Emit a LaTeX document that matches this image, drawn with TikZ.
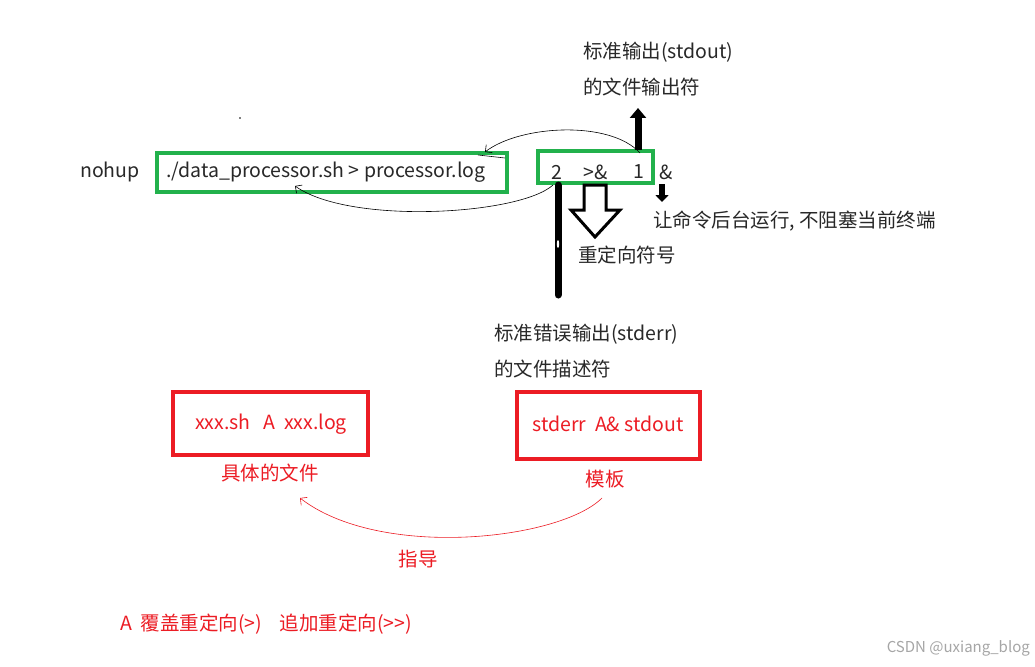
\documentclass[tikz,border=0pt]{standalone}
\usepackage{fontspec}
\setmainfont{Noto Sans CJK SC}
\usetikzlibrary{arrows.meta}
\definecolor{gr}{RGB}{34,177,76}
\definecolor{rd}{RGB}{236,28,36}
\definecolor{tx}{RGB}{40,40,40}
\tikzset{
 t/.style={font=\fontsize{19.5}{22}\selectfont, text=tx, inner sep=0pt, anchor=west},
 rt/.style={t, text=rd},
 gbox/.style={draw=gr, line width=4pt},
 rbox/.style={draw=rd, line width=3.5pt},
 thin/.style={line width=0.6pt, -{Straight Barb[length=5pt]}},
}
\begin{document}
\begin{tikzpicture}[x=1pt,y=-1pt]
\useasboundingbox (0,0) rectangle (1035,666);
\fill[white] (0,0) rectangle (1035,666);
\node[t] (nohup) at (80,172) {nohup};
\draw[gbox] (157,153) rectangle (507,192);
\node[t] (cmd) at (166,172) {./data\_processor.sh\ {>}\ processor.log};
\draw[gbox] (538,151) rectangle (653,183);
\node[t] (two) at (551,172) {2};
\node[t] (redir) at (583,172) {>\&};
\node[t] (one) at (633,172) {1};
\node[t] (amp) at (659,172) {\&};
\node[t] (so1) at (583,52) {标准输出(stdout)};
\node[t] (so2) at (583,87) {的文件输出符};
\coordinate (ua) at (638,150); \coordinate (ub) at (638,108);
\draw[line width=7pt, -{Triangle[length=10pt,width=16pt]}] (ua) -- (ub);
\coordinate (da) at (662,184); \coordinate (db) at (662,202);
\draw[line width=6pt, -{Triangle[length=7pt,width=13pt]}] (da) -- (db);
\node[t] (bg) at (653,221) {让命令后台运行, 不阻塞当前终端};
\draw[line width=3pt, fill=white, line join=miter] (584,185) -- (606,185) -- (606,210) -- (620,210) -- (595,237) -- (571,210) -- (584,210) -- cycle;
\node[t] (rs) at (578,255) {重定向符号};
\coordinate (la) at (558,185); \coordinate (lb) at (558,295);
\draw[line width=7pt, line cap=round] (la) -- (lb);
\fill[white] (558,244) ellipse (1.2 and 4);
\node[t] (se1) at (494,334) {标准错误输出(stderr)};
\node[t] (se2) at (494,369) {的文件描述符};
\fill (240,118) circle (0.8);
\draw[thin] (640,153) .. controls (610,120) and (520,125) .. (485,152);
\draw[line width=0.6pt] (478,155) -- (505,158);
\draw[thin] (553,185) .. controls (520,215) and (350,225) .. (295,186);
\draw[rbox] (173,392) rectangle (368,455);
\node[rt, anchor=center] (f1) at (271,424) {xxx.sh\ \ \ A\ \ xxx.log};
\node[rt, anchor=center] (f1l) at (270,473) {具体的文件};
\draw[rbox] (517,392) rectangle (700,459);
\node[rt, anchor=center] (f2) at (608,424) {stderr\ \ A\& stdout};
\node[rt, anchor=center] (f2l) at (605,479) {模板};
\draw[thin, draw=rd] (602,498) .. controls (560,540) and (380,560) .. (300,498);
\node[rt, anchor=center] (gd) at (418,559) {指导};
\node[rt] (note) at (120,624) {A\ \ 覆盖重定向(>)\ \ \ \ 追加重定向({>}{>})};
\node[t, anchor=east, text=gray!70, font=\fontsize{15}{17}\selectfont] (wm) at (1030,648) {CSDN @uxiang\_blog};
\end{tikzpicture}
\end{document}
